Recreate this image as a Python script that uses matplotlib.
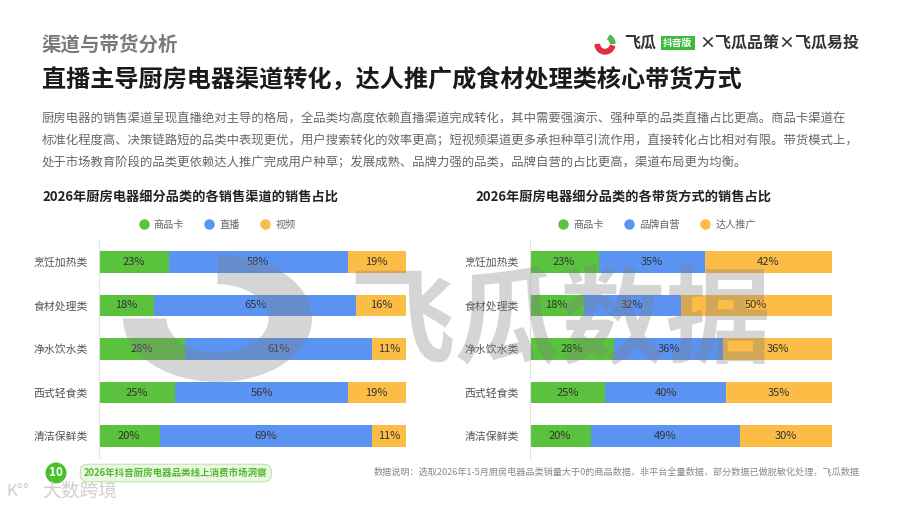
import numpy as np
import matplotlib
matplotlib.use("Agg")
import matplotlib.pyplot as plt
from matplotlib.patches import Wedge
from matplotlib.lines import Line2D

plt.rcParams['font.family'] = ['Noto Sans CJK SC', 'DejaVu Sans']

# ---- data ----
categories = ['烹饪加热类', '食材处理类', '净水饮水类', '西式轻食类', '清洁保鲜类']

channel_names = ['商品卡', '直播', '视频']
channel_card = [23, 18, 28, 25, 20]
channel_live = [58, 65, 61, 56, 69]
channel_video = [19, 16, 11, 19, 11]

mode_names = ['商品卡', '品牌自营', '达人推广']
mode_card = [23, 18, 28, 25, 20]
mode_brand = [35, 32, 36, 40, 49]
mode_kol = [42, 50, 36, 35, 30]

colors = ['#5ac23c', '#5b93f3', '#fbbd45']

W, H = 900, 507


def fx(x):
    return x / W


def fy(y):
    return 1 - y / H


fig = plt.figure(figsize=(9, 5.07), dpi=100)
fig.patch.set_facecolor('white')

# header
fig.text(fx(42), fy(45), '渠道与带货分析', fontsize=14, weight='bold',
         color='#7a7a7a', va='center', ha='left')
fig.text(fx(42), fy(80), '直播主导厨房电器渠道转化，达人推广成食材处理类核心带货方式',
         fontsize=17.4, weight='bold', color='#1a1a1a', va='center', ha='left')

para = ['厨房电器的销售渠道呈现直播绝对主导的格局，全品类均高度依赖直播渠道完成转化，其中需要强演示、强种草的品类直播占比更高。商品卡渠道在',
        '标准化程度高、决策链路短的品类中表现更优，用户搜索转化的效率更高；短视频渠道更多承担种草引流作用，直接转化占比相对有限。带货模式上，',
        '处于市场教育阶段的品类更依赖达人推广完成用户种草；发展成熟、品牌力强的品类，品牌自营的占比更高，渠道布局更为均衡。']
for i, line in enumerate(para):
    fig.text(fx(42), fy(119 + 22 * i), line, fontsize=8.9, color='#666666',
             va='center', ha='left')

# logo top right
ax_icon = fig.add_axes([fx(589), fy(56), 32 / W, 22 / H])
ax_icon.set_xlim(-1.1, 1.1)
ax_icon.set_ylim(-1.1, 1.1)
ax_icon.set_aspect('equal')
ax_icon.axis('off')
ax_icon.add_patch(Wedge((0, 0.1), 1, 185, 345, width=0.45, color='#e0303f'))
ax_icon.add_patch(Wedge((0, 0.1), 1, 5, 60, width=0.45, color='#4cb848'))
fig.text(fx(624), fy(43), '飞瓜', fontsize=11.5, weight='bold', color='#333333',
         va='center', ha='left')
fig.text(fx(663), fy(43), '抖音版', fontsize=7, weight='bold', color='white',
         va='center', ha='left',
         bbox=dict(boxstyle='square,pad=0.25', fc='#3dbb3a', ec='none'))
fig.text(fx(699), fy(43), '×飞瓜品策×飞瓜易投', fontsize=11.5, weight='bold',
         color='#333333', va='center', ha='left')


def stacked(ax, series, names, title, title_x):
    series = np.array(series, dtype=float)
    totals = series.sum(axis=0)
    shares = series / totals * 100
    y = np.arange(len(categories))
    left = np.zeros(len(categories))
    for vals, share, name, c in zip(series, shares, names, colors):
        bars = ax.barh(y, share, left=left, height=0.5, color=c, label=name)
        ax.bar_label(bars, labels=[f'{int(v)}%' for v in vals],
                     label_type='center', fontsize=8, color='#333333')
        left += share
    ax.set_xlim(0, 100)
    ax.set_ylim(len(categories) - 0.5, -0.5)
    ax.set_yticks(y)
    ax.set_yticklabels(categories, fontsize=7.8, color='#555555')
    ax.tick_params(axis='y', length=0, pad=7.5)
    ax.set_xticks([])
    for s in ['top', 'right', 'bottom']:
        ax.spines[s].set_visible(False)
    ax.spines['left'].set_color('#e2e2e2')
    ax.spines['left'].set_linewidth(0.8)
    fig.text(fx(title_x), fy(197), title, fontsize=9.5, weight='bold',
             color='#222222', va='center', ha='left')


ax1 = fig.add_axes([fx(98.5), fy(458), 307.5 / W, 218 / H])
stacked(ax1, [channel_card, channel_live, channel_video], channel_names,
        '2026年厨房电器细分品类的各销售渠道的销售占比', 42)
ax2 = fig.add_axes([fx(529.5), fy(458), 302.5 / W, 218 / H])
stacked(ax2, [mode_card, mode_brand, mode_kol], mode_names,
        '2026年厨房电器细分品类的各带货方式的销售占比', 475)

for ax, names, cx in [(ax1, channel_names, 217), (ax2, mode_names, 657)]:
    handles = [Line2D([], [], marker='o', linestyle='none', markersize=6.5,
                      markerfacecolor=c, markeredgecolor=c) for c in colors]
    ax.legend(handles, names, loc='center', ncol=3, frameon=False,
              bbox_to_anchor=(fx(cx), fy(225)), bbox_transform=fig.transFigure,
              fontsize=7.3, labelcolor='#666666', handletextpad=0.5,
              columnspacing=2.0, handlelength=1.0)

# watermark
ax_ring = fig.add_axes([fx(123), fy(382), 189 / W, 127 / H])
ax_ring.set_xlim(-1, 1)
ax_ring.set_ylim(-1, 1)
ax_ring.axis('off')
ax_ring.set_zorder(5)
ax_ring.add_patch(Wedge((0, 0), 1, 180, 450, width=0.46, color='#808080',
                        alpha=0.33, lw=0))
fig.text(fx(560), fy(324), '飞瓜数据', fontsize=76, weight='bold',
         color='#808080', alpha=0.33, ha='center', va='center', zorder=10)

# footer
fig.text(fx(56), fy(473), '10', fontsize=8.5, weight='bold', color='white',
         ha='center', va='center',
         bbox=dict(boxstyle='circle,pad=0.3', fc='#4cbf2c', ec='none'))
fig.text(fx(84), fy(473), '2026年抖音厨房电器品类线上消费市场洞察', fontsize=6.8,
         weight='bold', color='#54b830', ha='left', va='center',
         bbox=dict(boxstyle='round,pad=0.4,rounding_size=0.8', fc='#eaf7e2',
                   ec='#bfe6a8', lw=0.8))
fig.text(fx(374), fy(472),
         '数据说明：选取2026年1-5月厨房电器品类销量大于0的商品数据，非平台全量数据，部分数据已做脱敏化处理，飞瓜数据',
         fontsize=6.6, color='#8a8a8a', ha='left', va='center')
fig.text(fx(6), fy(491), 'K°°', fontsize=12, color='#cfcfcf', ha='left',
         va='center')
fig.text(fx(42), fy(491), '大数跨境', fontsize=13.5, color='#cfcfcf', ha='left',
         va='center')

fig.savefig('out.png', dpi=100, facecolor='white')
